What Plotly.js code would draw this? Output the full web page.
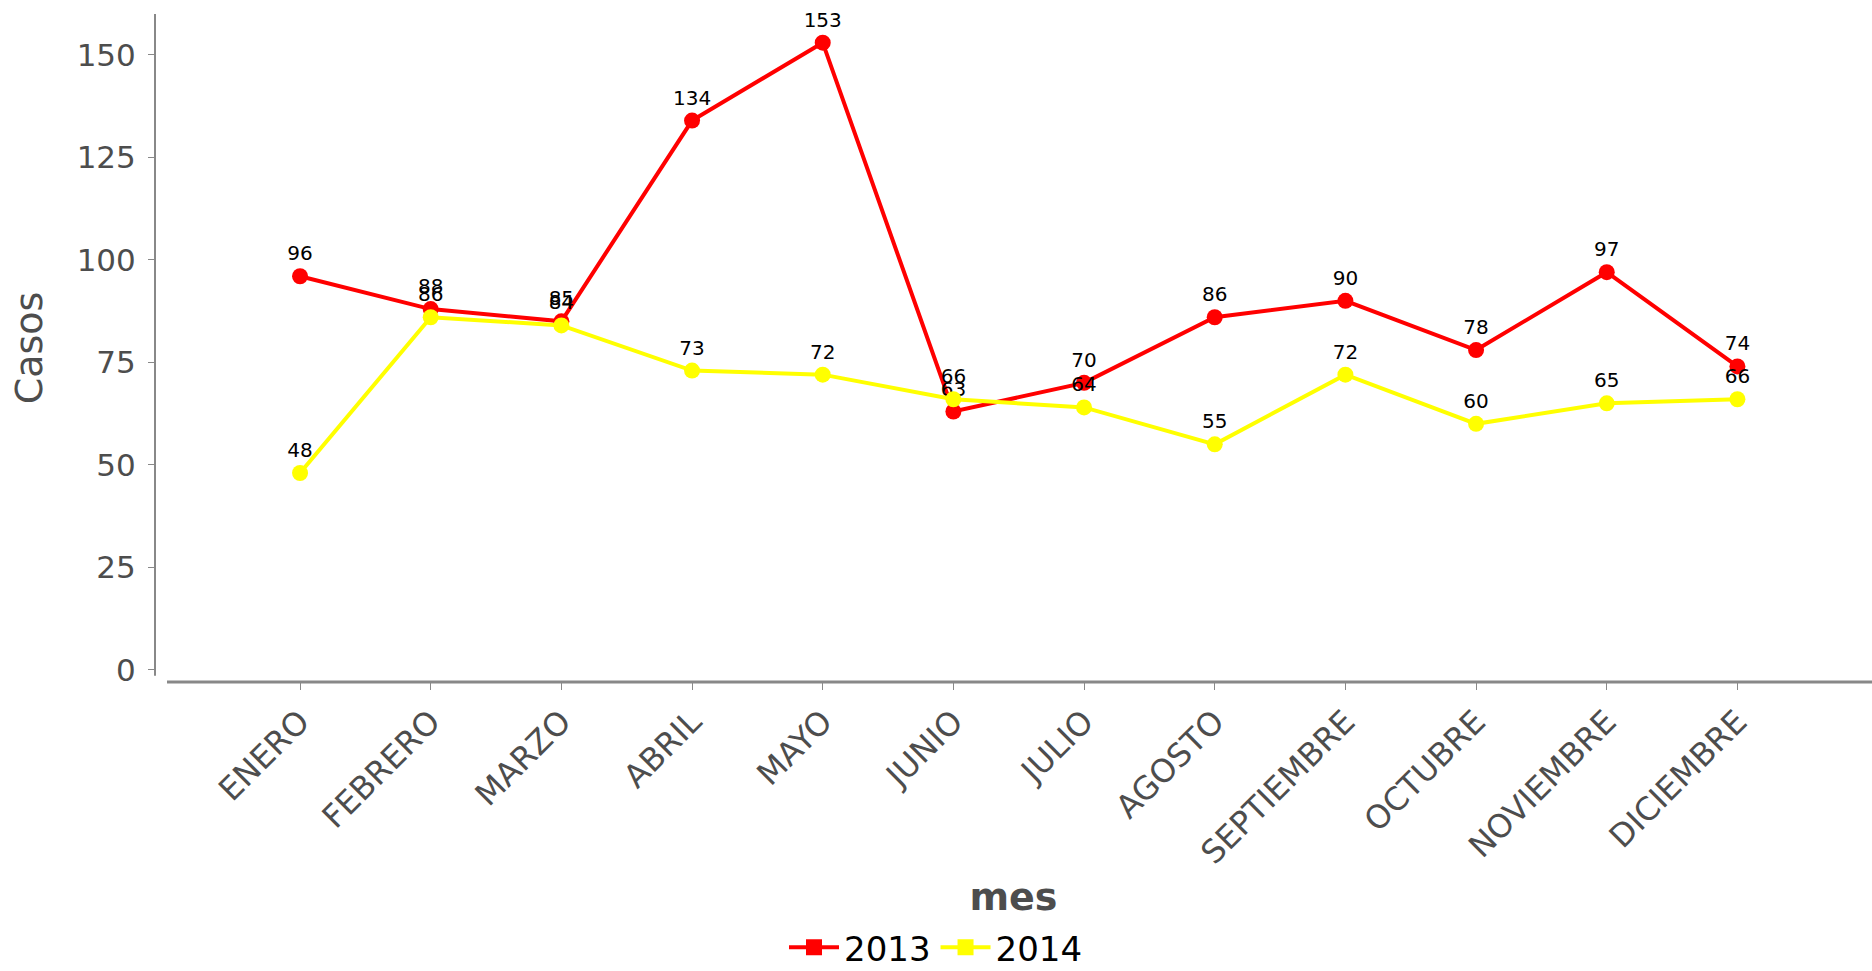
<!DOCTYPE html>
<html>
<head>
<meta charset="utf-8">
<script src="https://cdn.plot.ly/plotly-3.0.1.min.js"></script>
<style>
  html, body { margin: 0; padding: 0; background: #fff; }
  #chart { width: 1872px; height: 971px; }
</style>
</head>
<body>
<div id="chart"></div>
<script>
// months on the x axis
var meses = ['ENERO', 'FEBRERO', 'MARZO', 'ABRIL', 'MAYO', 'JUNIO', 'JULIO',
  'AGOSTO', 'SEPTIEMBRE', 'OCTUBRE', 'NOVIEMBRE', 'DICIEMBRE'];

// cases per month
var casos2013 = [96, 88, 85, 134, 153, 63, 70, 86, 90, 78, 97, 74];
var casos2014 = [48, 86, 84, 73, 72, 66, 64, 55, 72, 60, 65, 66];

var yTicks = [0, 25, 50, 75, 100, 125, 150];

var grey = '#4d4d4d';
var axisGrey = '#888';

function makeTrace(name, values, color) {
  return {
    name: name,
    x: meses,
    y: values,
    text: values.map(String),
    type: 'scatter',
    mode: 'lines+markers+text',
    textposition: 'top center',
    textfont: { family: 'DejaVu Sans', size: 20, color: '#000' },
    line: { color: color, width: 4 },
    marker: { color: color, size: 16 },
    cliponaxis: false,
    showlegend: false
  };
}

// legend entries use square keys like the original
function legendKey(name, color) {
  return {
    name: name,
    x: [null],
    y: [null],
    type: 'scatter',
    mode: 'lines+markers',
    line: { color: color, width: 4 },
    marker: { color: color, size: 22, symbol: 'square' },
    showlegend: true
  };
}

var traces = [
  makeTrace('2013', casos2013, '#ff0000'),
  makeTrace('2014', casos2014, '#ffff00'),
  legendKey('2013', '#ff0000'),
  legendKey('2014', '#ffff00')
];

// separate axis lines, as the original draws them (y stops near 0, x starts a bit right)
var axisLines = [
  { type: 'line', xref: 'paper', yref: 'y', x0: 0, x1: 0, y0: -1.5, y1: 160,
    line: { color: axisGrey, width: 2 } },
  { type: 'line', xref: 'paper', yref: 'paper', x0: 0.007, x1: 1, y0: 0, y1: 0,
    line: { color: axisGrey, width: 3 } }
];

var layout = {
  width: 1872,
  height: 971,
  margin: { l: 155, r: 0, t: 14, b: 289 },
  paper_bgcolor: '#fff',
  plot_bgcolor: '#fff',
  font: { family: 'DejaVu Sans', color: grey },
  shapes: axisLines,
  showlegend: true,
  legend: {
    orientation: 'h',
    xref: 'container', yref: 'container',
    x: 0.5, xanchor: 'center',
    y: 0.024, yanchor: 'middle',
    font: { size: 34, color: '#000' },
    itemwidth: 50,
    tracegroupgap: 0
  },
  xaxis: {
    type: 'category',
    range: [-1.11, 12.03],
    tickangle: -45,
    tickfont: { size: 32, color: grey },
    ticks: 'outside',
    ticklen: 7,
    tickcolor: axisGrey,
    showline: false,
    showgrid: false,
    zeroline: false,
    automargin: false,
    title: { text: 'mes', font: { size: 38, color: grey, weight: 'bold' }, standoff: 140 }
  },
  yaxis: {
    range: [-3, 160],
    tickvals: yTicks,
    tickfont: { size: 31, color: grey },
    ticks: 'outside',
    ticklen: 6,
    tickcolor: axisGrey,
    ticklabelstandoff: 6,
    showline: false,
    showgrid: false,
    zeroline: false,
    automargin: false,
    title: { text: 'Casos', font: { size: 38, color: grey }, standoff: 22 }
  }
};

Plotly.newPlot('chart', traces, layout, { displayModeBar: false, staticPlot: true });
</script>
</body>
</html>
